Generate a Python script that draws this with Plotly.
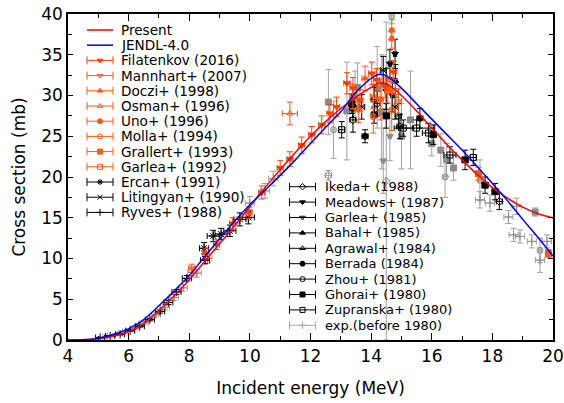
import plotly.graph_objects as go

# ---------------- data ----------------
energy_curve = [4.0, 4.5, 5.0, 5.5, 6.0, 6.5, 7.0, 7.5, 8.0, 8.5, 9.0, 9.5, 10.0, 10.5, 11.0, 11.5,
                12.0, 12.5, 13.0, 13.5, 14.0, 14.3, 14.6, 15.0, 15.5, 16.0, 16.5, 17.0, 17.5,
                18.0, 18.5, 19.0, 19.5, 20.0]
present_xs = [0.0, 0.03, 0.15, 0.5, 1.0, 2.0, 3.6, 5.4, 7.4, 9.6, 11.8, 14.0, 16.4, 18.7, 20.9, 23.0,
              25.0, 26.8, 28.4, 29.8, 31.0, 31.6, 31.2, 30.0, 28.1, 26.0, 24.0, 22.1, 20.3,
              18.7, 17.4, 16.3, 15.5, 15.0]
jendl_xs = [0.0, 0.04, 0.2, 0.7, 1.4, 2.5, 4.2, 6.0, 7.9, 10.2, 12.4, 14.6, 16.6, 18.4, 20.2, 22.1,
            24.1, 26.1, 28.0, 30.4, 32.1, 32.6, 32.2, 30.9, 29.0, 27.1, 25.2, 23.3, 21.3,
            19.2, 17.1, 14.8, 12.6, 10.3]

filatenkov_x = [8.55, 8.90, 9.43, 9.97, 10.39, 11.00, 11.32, 11.71, 12.04, 12.37, 12.64, 12.86, 13.20, 13.40, 13.63, 14.02, 14.18, 14.46, 14.73]
filatenkov_y = [10.6, 11.7, 14.3, 15.6, 18.1, 21.1, 22.2, 23.9, 25.2, 26.4, 27.8, 28.6, 31.5, 30.9, 29.4, 32.7, 31.9, 31.1, 32.9]
filatenkov_dy = [0.6, 0.6, 0.7, 0.7, 0.8, 0.9, 0.9, 1.0, 1.0, 1.1, 1.1, 1.2, 1.3, 1.3, 1.3, 1.4, 1.4, 1.4, 1.4]
filatenkov_dx = [0.10, 0.10, 0.10, 0.10, 0.10, 0.10, 0.10, 0.10, 0.10, 0.10, 0.10, 0.10, 0.10, 0.10, 0.10, 0.10, 0.10, 0.10, 0.10]

mannhart_x = [8.08, 13.58, 14.07, 14.90]
mannhart_y = [8.8, 28.2, 29.9, 29.3]
mannhart_dy = [0.5, 1.5, 1.5, 1.5]
mannhart_dx = [0.10, 0.10, 0.10, 0.10]

doczi_x = [14.68, 14.68, 13.80]
doczi_y = [38.0, 37.0, 32.1]
doczi_dy = [1.3, 1.2, 1.5]
doczi_dx = [0.05, 0.05, 0.10]

osman_x = [11.32, 14.62]
osman_y = [27.8, 31.9]
osman_dy = [1.4, 1.5]
osman_dx = [0.25, 0.10]

uno_x = [14.30, 14.55]
uno_y = [29.5, 30.6]
uno_dy = [2.5, 1.5]
uno_dx = [0.10, 0.10]

molla_x = [14.07, 14.68]
molla_y = [27.4, 28.2]
molla_dy = [2.0, 2.5]
molla_dx = [0.05, 0.05]

grallert_x = [17.54, 19.85]
grallert_y = [20.4, 10.6]
grallert_dy = [0.8, 0.5]
grallert_dx = [0.10, 0.10]

garlea92_x = [13.40, 14.80]
garlea92_y = [29.9, 30.5]
garlea92_dy = [1.5, 1.5]
garlea92_dx = [0.10, 0.10]

ercan_x = [8.49, 8.79, 9.05, 9.34, 9.67, 9.95]
ercan_y = [11.25, 12.76, 13.0, 13.4, 14.8, 15.05]
ercan_dy = [0.7, 0.7, 0.7, 0.7, 0.8, 0.8]
ercan_dx = [0.15, 0.20, 0.20, 0.20, 0.20, 0.20]

litingyan_x = [13.69, 14.40, 14.79]
litingyan_y = [28.6, 33.1, 28.6]
litingyan_dy = [1.5, 1.7, 1.5]
litingyan_dx = [0.10, 0.10, 0.10]

ryves_x = [5.06, 5.39, 5.72, 6.05, 6.37, 6.70, 7.04, 7.31, 7.58, 7.92, 8.52]
ryves_y = [0.3, 0.5, 0.7, 1.15, 1.7, 2.5, 3.5, 4.6, 5.9, 7.57, 9.8]
ryves_dy = [0.05, 0.05, 0.08, 0.10, 0.12, 0.15, 0.20, 0.25, 0.30, 0.35, 0.45]
ryves_dx = [0.15, 0.15, 0.15, 0.15, 0.15, 0.15, 0.15, 0.15, 0.15, 0.15, 0.15]

ikeda_x = [13.40, 14.10, 14.95, 18.23]
ikeda_y = [27.0, 29.5, 26.2, 17.0]
ikeda_dy = [1.5, 1.5, 1.5, 1.0]
ikeda_dx = [0.10, 0.10, 0.10, 0.10]

meadows_x = [14.62, 14.79]
meadows_y = [33.9, 35.1]
meadows_dy = [1.7, 1.8]
meadows_dx = [0.05, 0.05]

garlea85_x = [14.70]
garlea85_y = [30.0]
garlea85_dy = [2.0]
garlea85_dx = [0.05]

bahal_x = [14.80]
bahal_y = [31.8]
bahal_dy = [2.0]
bahal_dx = [0.05]

agrawal_x = [14.50]
agrawal_y = [30.8]
agrawal_dy = [2.5]
agrawal_dx = [0.05]

berrada_x = [13.80, 14.10, 15.61]
berrada_y = [25.0, 27.6, 27.2]
berrada_dy = [0.8, 1.0, 1.2]
berrada_dx = [0.10, 0.10, 0.10]

zhou_x = [14.20, 14.90]
zhou_y = [29.0, 27.5]
zhou_dy = [1.5, 1.5]
zhou_dx = [0.10, 0.10]

ghorai_x = [13.36, 14.50, 16.05, 17.10, 17.76, 18.09]
ghorai_y = [29.0, 27.5, 25.2, 22.1, 19.0, 18.2]
ghorai_dy = [1.2, 1.5, 1.2, 1.2, 1.0, 1.0]
ghorai_dx = [0.10, 0.10, 0.10, 0.10, 0.10, 0.10]

zupranska_x = [13.03, 13.40, 15.06, 15.50, 15.89, 16.60, 17.37]
zupranska_y = [25.8, 28.5, 26.0, 26.0, 25.4, 22.7, 22.4]
zupranska_dy = [1.0, 1.2, 1.0, 1.0, 1.2, 1.0, 1.0]
zupranska_dx = [0.10, 0.10, 0.30, 0.60, 0.20, 0.20, 0.10]

old_sq_x = [12.59, 13.20, 13.55, 14.20, 14.35, 15.00, 15.30, 16.00, 16.30, 16.49, 16.72, 19.41]
old_sq_y = [29.2, 28.1, 31.0, 31.0, 28.0, 25.0, 27.0, 24.1, 23.3, 22.1, 21.1, 15.7]
old_sq_dy = [4.0, 6.0, 3.0, 5.0, 7.0, 4.0, 6.0, 1.5, 2.0, 2.0, 1.5, 0.5]
old_sq_dx = [0.05, 0.05, 0.05, 0.05, 0.05, 0.05, 0.05, 0.05, 0.05, 0.05, 0.05, 0.05]

old_ci_x = [12.76, 13.47, 14.68, 16.44, 17.59, 19.57]
old_ci_y = [25.8, 30.0, 39.8, 20.0, 19.6, 11.0]
old_ci_dy = [3.5, 3.0, 1.0, 2.5, 2.5, 1.5]
old_ci_dx = [0.05, 0.05, 0.05, 0.05, 0.05, 0.05]

old_cr_x = [5.30, 5.80, 6.20, 6.50, 6.90, 7.20, 7.50, 7.80, 8.10, 8.25, 8.60, 10.00, 10.50, 10.77,
            17.59, 17.92, 18.53, 18.80, 18.70, 18.91, 19.30, 19.80, 19.57]
old_cr_y = [0.4, 0.9, 1.4, 2.1, 3.1, 4.0, 5.2, 6.4, 8.3, 8.2, 10.0, 16.8, 18.3, 19.8,
            17.2, 16.8, 15.1, 16.4, 12.9, 12.7, 12.1, 12.1, 9.8]
old_cr_dy = [0.1, 0.1, 0.15, 0.2, 0.25, 0.3, 0.35, 0.4, 0.5, 0.5, 0.6, 0.8, 0.9, 0.9,
             1.0, 1.0, 0.8, 1.0, 0.8, 0.8, 0.8, 0.8, 1.5]
old_cr_dx = [0.15, 0.15, 0.15, 0.15, 0.15, 0.15, 0.15, 0.15, 0.15, 0.15, 0.15, 0.15, 0.15, 0.15,
             0.15, 0.15, 0.15, 0.15, 0.15, 0.15, 0.15, 0.15, 0.15]

old_di_x = [12.59, 14.50]
old_di_y = [20.2, 19.5]
old_di_dy = [0.6, 19.5]
old_di_dx = [0.10, 0.02]

old_tr_x = [14.40, 14.62]
old_tr_y = [22.0, 25.0]
old_tr_dy = [4.0, 3.0]
old_tr_dx = [0.05, 0.05]

# ---------------- styles ----------------
ORANGE = "#ff5a14"
ORANGE2 = "#ff4000"
BLACK = "#000000"
GRAY = "#8a8a8a"
GRAY_ERR = "#a0a0a0"
FONT = "DejaVu Sans"

fig = go.Figure()


def add_series(x, y, dx, dy, symbol, color, errcolor=None, size=6):
    ec = errcolor or color
    fig.add_trace(go.Scatter(
        x=x, y=y, mode="markers", showlegend=False,
        marker=dict(symbol=symbol, size=size, color=color,
                    line=dict(color=color, width=1)),
        error_y=dict(type="data", array=dy, color=ec, thickness=1, width=3),
        error_x=dict(type="data", array=dx, color=ec, thickness=1, width=3),
    ))


# gray old data first (background)
add_series(old_sq_x, old_sq_y, old_sq_dx, old_sq_dy, "square", GRAY, GRAY_ERR)
add_series(old_ci_x, old_ci_y, old_ci_dx, old_ci_dy, "circle-open", GRAY, GRAY_ERR)
add_series(old_cr_x, old_cr_y, old_cr_dx, old_cr_dy, "cross-thin-open", GRAY, GRAY_ERR)
add_series(old_di_x, old_di_y, old_di_dx, old_di_dy, "diamond-open", GRAY, GRAY_ERR)
add_series(old_tr_x, old_tr_y, old_tr_dx, old_tr_dy, "triangle-down", GRAY, GRAY_ERR)

# black data
add_series(ikeda_x, ikeda_y, ikeda_dx, ikeda_dy, "diamond-open", BLACK)
add_series(meadows_x, meadows_y, meadows_dx, meadows_dy, "triangle-down", BLACK)
add_series(garlea85_x, garlea85_y, garlea85_dx, garlea85_dy, "triangle-down-open", BLACK)
add_series(bahal_x, bahal_y, bahal_dx, bahal_dy, "triangle-up", BLACK)
add_series(agrawal_x, agrawal_y, agrawal_dx, agrawal_dy, "triangle-up-open", BLACK)
add_series(berrada_x, berrada_y, berrada_dx, berrada_dy, "circle", BLACK)
add_series(zhou_x, zhou_y, zhou_dx, zhou_dy, "circle-open", BLACK)
add_series(ghorai_x, ghorai_y, ghorai_dx, ghorai_dy, "square", BLACK)
add_series(zupranska_x, zupranska_y, zupranska_dx, zupranska_dy, "square-open", BLACK)
add_series(ercan_x, ercan_y, ercan_dx, ercan_dy, "asterisk-open", BLACK, size=7)
add_series(litingyan_x, litingyan_y, litingyan_dx, litingyan_dy, "x-thin-open", BLACK)
add_series(ryves_x, ryves_y, ryves_dx, ryves_dy, "cross-thin-open", BLACK)

# orange data
add_series(mannhart_x, mannhart_y, mannhart_dx, mannhart_dy, "triangle-down-open", ORANGE)
add_series(doczi_x, doczi_y, doczi_dx, doczi_dy, "triangle-up", ORANGE)
add_series(osman_x, osman_y, osman_dx, osman_dy, "triangle-up-open", ORANGE)
add_series(uno_x, uno_y, uno_dx, uno_dy, "circle", ORANGE)
add_series(molla_x, molla_y, molla_dx, molla_dy, "circle-open", ORANGE)
add_series(grallert_x, grallert_y, grallert_dx, grallert_dy, "square", ORANGE)
add_series(garlea92_x, garlea92_y, garlea92_dx, garlea92_dy, "square-open", ORANGE)
add_series(filatenkov_x, filatenkov_y, filatenkov_dx, filatenkov_dy, "triangle-down", ORANGE2)

# evaluated curves on top
fig.add_trace(go.Scatter(x=energy_curve, y=present_xs, mode="lines", showlegend=False,
                         line=dict(color="#ff0000", width=1.5, shape="spline", smoothing=0.6)))
fig.add_trace(go.Scatter(x=energy_curve, y=jendl_xs, mode="lines", showlegend=False,
                         line=dict(color="#0000ff", width=1.5, shape="spline", smoothing=0.6)))

# ---------------- custom legends (helper pixel axes) ----------------
legend1 = [
    ("Present", "line", "#ff0000"),
    ("JENDL-4.0", "line", "#0000ff"),
    ("Filatenkov (2016)", "triangle-down", ORANGE2),
    ("Mannhart+ (2007)", "triangle-down-open", ORANGE),
    ("Doczi+ (1998)", "triangle-up", ORANGE),
    ("Osman+ (1996)", "triangle-up-open", ORANGE),
    ("Uno+ (1996)", "circle", ORANGE),
    ("Molla+ (1994)", "circle-open", ORANGE),
    ("Grallert+ (1993)", "square", ORANGE),
    ("Garlea+ (1992)", "square-open", ORANGE),
    ("Ercan+ (1991)", "asterisk-open", BLACK),
    ("Litingyan+ (1990)", "x-thin-open", BLACK),
    ("Ryves+ (1988)", "cross-thin-open", BLACK),
]
legend2 = [
    ("Ikeda+ (1988)", "diamond-open", BLACK),
    ("Meadows+ (1987)", "triangle-down", BLACK),
    ("Garlea+ (1985)", "triangle-down-open", BLACK),
    ("Bahal+ (1985)", "triangle-up", BLACK),
    ("Agrawal+ (1984)", "triangle-up-open", BLACK),
    ("Berrada (1984)", "circle", BLACK),
    ("Zhou+ (1981)", "circle-open", BLACK),
    ("Ghorai+ (1980)", "square", BLACK),
    ("Zupranska+ (1980)", "square-open", BLACK),
    ("exp.(before 1980)", "cross-thin-open", "#a8a8a8"),
]

annotations = []


def draw_legend(entries, x0, y0, step, sample_w, text_gap, fsize):
    for i, (name, kind, color) in enumerate(entries):
        cy = y0 + i * step
        cx = x0 + sample_w / 2
        if kind == "line":
            fig.add_trace(go.Scatter(x=[x0, x0 + sample_w], y=[cy, cy], mode="lines",
                                     xaxis="x2", yaxis="y2", showlegend=False, hoverinfo="skip",
                                     line=dict(color=color, width=1.5)))
        else:
            fig.add_trace(go.Scatter(x=[cx], y=[cy], mode="markers", xaxis="x2", yaxis="y2",
                                     showlegend=False, hoverinfo="skip",
                                     marker=dict(symbol=kind, size=5, color=color,
                                                 line=dict(color=color, width=1)),
                                     error_x=dict(type="constant", value=sample_w / 2, color=color,
                                                  thickness=1, width=4)))
        annotations.append(dict(x=x0 + sample_w + text_gap, y=cy, xref="x2", yref="y2",
                                text=name, showarrow=False, xanchor="left", yanchor="middle",
                                font=dict(family=FONT, size=fsize, color="#000000")))


draw_legend(legend1, 87, 30, 15.2, 26, 6, 13.6)
draw_legend(legend2, 289.5, 186.7, 15.4, 26, 7, 13)

axis_common = dict(showline=True, linecolor="black", linewidth=1.5, mirror="allticks",
                   ticks="inside", tickcolor="black", tickwidth=1, showgrid=False,
                   zeroline=False, automargin=False,
                   tickfont=dict(family=FONT, size=17, color="black"))

fig.update_layout(
    width=564, height=403,
    margin=dict(l=68, r=11, t=14, b=63),
    paper_bgcolor="white", plot_bgcolor="white",
    font=dict(family=FONT, size=13, color="black"),
    showlegend=False,
    annotations=annotations,
    xaxis=dict(range=[4, 20], dtick=2, tick0=4, ticklen=7,
               minor=dict(dtick=1, ticklen=4, ticks="inside", tickcolor="black", showgrid=False),
               title=dict(text="Incident energy (MeV)", font=dict(family=FONT, size=17), standoff=17),
               **axis_common),
    yaxis=dict(range=[0, 40], dtick=5, tick0=0, ticklen=5,
               minor=dict(dtick=2.5, ticklen=4, ticks="inside", tickcolor="black", showgrid=False),
               title=dict(text="Cross section (mb)", font=dict(family=FONT, size=17), standoff=11),
               **axis_common),
    xaxis2=dict(overlaying="x", range=[68, 553], visible=False, fixedrange=True, automargin=False),
    yaxis2=dict(overlaying="y", range=[340, 14], visible=False, fixedrange=True, automargin=False),
)

fig.write_html("out.html")
